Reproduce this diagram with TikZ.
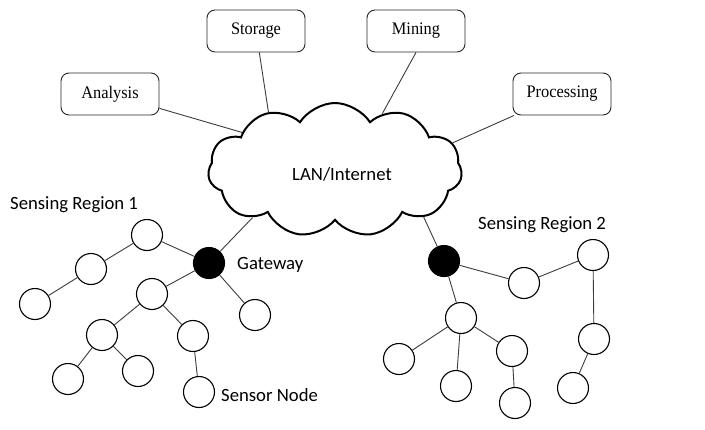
\documentclass[tikz,border=0pt]{standalone}
\usepackage{fontspec}
\setmainfont{Liberation Serif}
\newfontfamily\boxfont[FakeStretch=0.93]{Liberation Serif}
\newfontfamily\calibri{Carlito}
\usetikzlibrary{shapes.symbols}
\definecolor{LinkGray}{RGB}{60, 60, 60}

\begin{document}
\begin{tikzpicture}[x=1pt, y=-1pt,
  task/.style={draw=black!85, line width=0.9pt, rounded corners=8pt, minimum width=98pt, minimum height=42pt, font=\boxfont\fontsize{17.6}{19}\selectfont},
  sensor/.style={circle, draw=black, line width=1.1pt, fill=white, minimum size=31pt, inner sep=0pt},
  gateway/.style={sensor, fill=black},
  link/.style={draw=LinkGray, line width=0.9pt},
  caption/.style={font=\calibri\fontsize{18.7}{22}\selectfont, inner sep=0pt}]
\useasboundingbox (0,0) rectangle (705,429);

% the network in the middle
\node[cloud, draw, line width=2pt, cloud puffs=11, cloud puff arc=115, aspect=1.9, minimum width=254pt, minimum height=134pt] (lan) at (335,170) {};
\node[caption, anchor=base] (lanlabel) at (342,180) {LAN/Internet};

% services
\node[task] (analysis) at (110,94) {Analysis};
\node[task] (storage) at (256,31) {Storage};
\node[task] (mining) at (416,31) {Mining};
\node[task] (processing) at (562,94) {Processing};

\draw[link] (analysis) -- (lan.158);
\draw[link] (storage) -- (lan.139);
\draw[link] (mining.south) -- (lan.50);
\draw[link] (processing) -- (lan.13);

% sensing region 1
\node[gateway] (gw1) at (209,263) {};
\node[sensor] (a1) at (147,235) {};
\node[sensor] (a2) at (91,269) {};
\node[sensor] (a3) at (35,304) {};
\node[sensor] (a4) at (152,294) {};
\node[sensor] (a5) at (255,315) {};
\node[sensor] (a6) at (102,335) {};
\node[sensor] (a7) at (193,336) {};
\node[sensor] (a8) at (68,379) {};
\node[sensor] (a9) at (138,371) {};
\node[sensor] (a10) at (199,392) {};

\foreach \u/\v in {gw1/a1, a1/a2, a2/a3, gw1/a4, gw1/a5, a4/a6, a4/a7, a6/a8, a6/a9, a7/a10}
  \draw[link] (\u) -- (\v);
\draw[link] (gw1) -- (lan.210);

% sensing region 2
\node[gateway] (gw2) at (444,261) {};
\node[sensor] (b1) at (524,283) {};
\node[sensor] (b2) at (593,255) {};
\node[sensor] (b3) at (594,339) {};
\node[sensor] (b4) at (573,388) {};
\node[sensor] (b5) at (461,318) {};
\node[sensor] (b6) at (399,359) {};
\node[sensor] (b7) at (456,386) {};
\node[sensor] (b8) at (512,351) {};
\node[sensor] (b9) at (515,403) {};

\foreach \u/\v in {gw2/b1, b1/b2, b2/b3, b3/b4, gw2/b5, b5/b6, b5/b7, b5/b8, b8/b9}
  \draw[link] (\u) -- (\v);
\draw[link] (gw2) -- (lan.332);

% labels
\node[caption, anchor=base west] (region1) at (10,209) {Sensing Region 1};
\node[caption, anchor=base west] (gwlabel) at (237,269) {Gateway};
\node[caption, anchor=base west] (sensorlabel) at (221,401) {Sensor Node};
\node[caption, anchor=base west] (region2) at (478,229) {Sensing Region 2};
\end{tikzpicture}
\end{document}
